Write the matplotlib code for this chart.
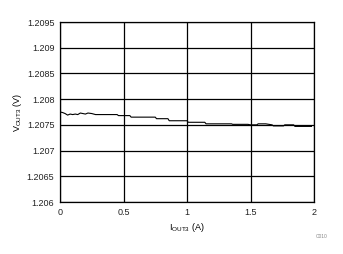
import matplotlib
matplotlib.use("Agg")
import matplotlib.pyplot as plt

plt.rcParams['font.family'] = ['Liberation Sans', 'DejaVu Sans']

current = [0.00, 0.02, 0.04, 0.06, 0.08, 0.10, 0.12, 0.14, 0.16, 0.18, 0.20, 0.22,
           0.25, 0.28, 0.35, 0.45, 0.46, 0.55, 0.56, 0.75, 0.76, 0.85, 0.86, 1.00,
           1.01, 1.14, 1.15, 1.35, 1.36, 1.48, 1.50, 1.55, 1.56, 1.62, 1.67, 1.68,
           1.76, 1.77, 1.84, 1.85, 1.98]
vout = [1.20775, 1.20774, 1.20772, 1.20769, 1.20771, 1.20770, 1.20771, 1.20770,
        1.20773, 1.20772, 1.20771, 1.20773, 1.20772, 1.20770, 1.20770, 1.20770,
        1.20768, 1.20768, 1.20765, 1.20765, 1.20762, 1.20762, 1.20758, 1.20758,
        1.20755, 1.20755, 1.20752, 1.20752, 1.20751, 1.20751, 1.20750, 1.20750,
        1.20752, 1.20752, 1.20750, 1.20748, 1.20748, 1.20750, 1.20750, 1.20747,
        1.20747]

xticks = [0, 0.5, 1, 1.5, 2]
xtick_labels = ['0', '0.5', '1', '1.5', '2']
yticks = [1.206, 1.2065, 1.207, 1.2075, 1.208, 1.2085, 1.209, 1.2095]
ytick_labels = ['1.206', '1.2065', '1.207', '1.2075', '1.208', '1.2085', '1.209', '1.2095']

fig = plt.figure(figsize=(3.43, 2.54), dpi=100)
ax = fig.add_axes([60/343, 1 - 202/254, 254/343, 180/254])
ax.plot(current, vout, color='black', linewidth=0.8)
ax.set_xlim(0, 2)
ax.set_ylim(1.206, 1.2095)
ax.set_xticks(xticks)
ax.set_xticklabels(xtick_labels)
ax.set_yticks(yticks)
ax.set_yticklabels(ytick_labels)
ax.grid(True, color='black', linewidth=0.9)
ax.tick_params(length=0, labelsize=6.5, pad=4, colors='#222222')
for s in ax.spines.values():
    s.set_linewidth(0.9)
ax.set_xlabel(r'I$_{\mathregular{OUT3}}$ (A)', fontsize=6.5, labelpad=3)
ax.set_ylabel(r'V$_{\mathregular{OUT3}}$ (V)', fontsize=6.5, labelpad=2)
fig.text(322/343, 1 - 236/254, 'C010', fontsize=3.5, color='#888888', ha='center', va='center')
fig.savefig('out.png', dpi=100)
